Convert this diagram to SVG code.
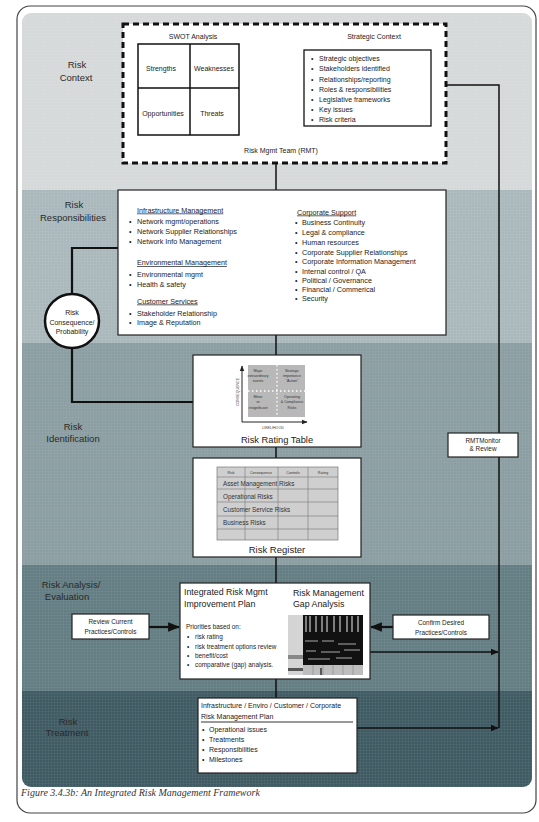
<svg xmlns="http://www.w3.org/2000/svg" width="539" height="822" viewBox="0 0 539 822">
<defs>
<style>
text{font-family:"Liberation Sans",Arial,sans-serif;fill:#222}
.lbl{font-size:9.5px;text-anchor:middle;fill:#2a2a2a}
.s7{font-size:7px}
.s73{font-size:7.2px}
.s65{font-size:6.4px}
.mid{text-anchor:middle}
.u{text-decoration:underline}
.box{fill:#fff;stroke:#222;stroke-width:1.2}
.con{fill:none;stroke:#111;stroke-width:1.5}
.thk{fill:none;stroke:#111;stroke-width:2.2}
.tiny{font-size:3.6px;text-anchor:middle;fill:#333}
.tl{stroke:#777;stroke-width:0.6}
</style>
<marker id="ah" viewBox="0 0 10 10" refX="9" refY="5" markerWidth="5.5" markerHeight="5.5" orient="auto"><path d="M0,1 L10,5 L0,9 z" fill="#111"/></marker>
<marker id="sa" viewBox="0 0 10 10" refX="9" refY="5" markerWidth="6" markerHeight="6" orient="auto"><path d="M0,1 L10,5 L0,9 z" fill="#222"/></marker>
<clipPath id="clip"><rect x="22" y="13" width="510" height="774" rx="9"/></clipPath>
<pattern id="grid" width="3" height="3" patternUnits="userSpaceOnUse"><path d="M0,0.5 H3 M0.5,0 V3" stroke="#fff" stroke-opacity="0.08" stroke-width="0.6"/></pattern>
</defs>

<rect x="0" y="0" width="539" height="822" fill="#fff"/>
<rect x="17" y="6" width="519" height="807" rx="13" fill="#fff" stroke="#444" stroke-width="1.2"/>

<g id="bands" clip-path="url(#clip)">
<rect x="22" y="13" width="510" height="177" fill="#d6d9d9"/>
<rect x="22" y="190" width="510" height="153" fill="#aab8bc"/>
<rect x="22" y="343" width="510" height="222" fill="#8b9ea2"/>
<rect x="22" y="565" width="510" height="126" fill="#637d83"/>
<rect x="22" y="691" width="510" height="96" fill="#405b63"/>
<rect x="22" y="13" width="510" height="774" fill="url(#grid)"/>
</g>

<g id="band-labels">
<text class="lbl" x="77" y="67.5">Risk</text>
<text class="lbl" x="76" y="81">Context</text>
<text class="lbl" x="74" y="207.5">Risk</text>
<text class="lbl" x="73" y="220.5">Responsibilities</text>
<text class="lbl" x="73" y="429.5">Risk</text>
<text class="lbl" x="73" y="441.5">Identification</text>
<text class="lbl" x="71" y="588">Risk Analysis/</text>
<text class="lbl" x="67" y="599.5">Evaluation</text>
<text class="lbl" x="68" y="725">Risk</text>
<text class="lbl" x="67" y="736">Treatment</text>
</g>

<g id="connectors">
<path class="con" d="M276,163 V698"/>
<path class="thk" d="M72,294 V248 H118"/>
<path class="thk" d="M72,348 V402 H193"/>
<path class="thk" d="M149,627 H179" marker-end="url(#ah)"/>
<path class="thk" d="M393,627 H371" marker-end="url(#ah)"/>
<path class="con" d="M370,652 H498" marker-end="url(#ah)"/>
<path class="con" d="M357,728 H498" marker-end="url(#ah)"/>
<path class="con" d="M499,728 V85 H433" marker-end="url(#ah)"/>
</g>

<g id="risk-context">
<rect x="123" y="24" width="323" height="139" fill="#fff" stroke="#111" stroke-width="3" stroke-dasharray="6 4"/>
<text class="s7 mid" x="193" y="38.5">SWOT Analysis</text>
<g id="swot">
<rect x="138" y="44" width="101" height="91" fill="#fff" stroke="#111" stroke-width="1.5"/>
<path d="M190,44 V135 M138,88 H239" stroke="#111" stroke-width="1.5"/>
<text class="s7 mid" x="161" y="70.5">Strengths</text>
<text class="s7 mid" x="214" y="70.5">Weaknesses</text>
<text class="s7 mid" x="163" y="115.5">Opportunities</text>
<text class="s7 mid" x="212" y="115.5">Threats</text>
</g>
<text class="s7 mid" x="374" y="38.5">Strategic  Context</text>
<g id="strategic-context">
<rect x="304" y="50" width="127" height="76" fill="#fff" stroke="#111" stroke-width="1.3"/>
<text class="s7"><tspan x="311" y="61">•</tspan><tspan x="319">Strategic objectives</tspan></text>
<text class="s7"><tspan x="311" y="71">•</tspan><tspan x="319">Stakeholders identified</tspan></text>
<text class="s7"><tspan x="311" y="81.5">•</tspan><tspan x="319">Relationships/reporting</tspan></text>
<text class="s7"><tspan x="311" y="91.5">•</tspan><tspan x="319">Roles &amp; responsibilities</tspan></text>
<text class="s7"><tspan x="311" y="101.5">•</tspan><tspan x="319">Legislative frameworks</tspan></text>
<text class="s7"><tspan x="311" y="111.5">•</tspan><tspan x="319">Key issues</tspan></text>
<text class="s7"><tspan x="311" y="122">•</tspan><tspan x="319">Risk criteria</tspan></text>
</g>
<text class="s7 mid" x="281" y="152.5">Risk Mgmt Team (RMT)</text>
</g>

<g id="risk-responsibilities">
<rect class="box" x="118" y="190" width="328" height="145"/>
<text class="s73 u" x="137" y="212.5">Infrastructure Management</text>
<text class="s73"><tspan x="129" y="223.5">•</tspan><tspan x="137">Network mgmt/operations</tspan></text>
<text class="s73"><tspan x="129" y="233.5">•</tspan><tspan x="137">Network Supplier Relationships</tspan></text>
<text class="s73"><tspan x="129" y="244">•</tspan><tspan x="137">Network Info Management</tspan></text>
<text class="s73 u" x="137" y="265">Environmental Management</text>
<text class="s73"><tspan x="129" y="277">•</tspan><tspan x="137">Environmental mgmt</tspan></text>
<text class="s73"><tspan x="129" y="287">•</tspan><tspan x="137">Health &amp; safety</tspan></text>
<text class="s73 u" x="137" y="303.5">Customer Services</text>
<text class="s73"><tspan x="129" y="315.5">•</tspan><tspan x="137">Stakeholder Relationship</tspan></text>
<text class="s73"><tspan x="129" y="324.5">•</tspan><tspan x="137">Image &amp; Reputation</tspan></text>
<text class="s73 u" x="297" y="214.5">Corporate Support</text>
<text class="s73"><tspan x="295" y="224.5">•</tspan><tspan x="302">Business Continuity</tspan></text>
<text class="s73"><tspan x="295" y="234.5">•</tspan><tspan x="302">Legal &amp; compliance</tspan></text>
<text class="s73"><tspan x="295" y="244.5">•</tspan><tspan x="302">Human resources</tspan></text>
<text class="s73"><tspan x="295" y="254.5">•</tspan><tspan x="302">Corporate Supplier Relationships</tspan></text>
<text class="s73"><tspan x="295" y="264">•</tspan><tspan x="302">Corporate Information Management</tspan></text>
<text class="s73"><tspan x="295" y="273.5">•</tspan><tspan x="302">Internal control / QA</tspan></text>
<text class="s73"><tspan x="295" y="282.5">•</tspan><tspan x="302">Political / Governance</tspan></text>
<text class="s73"><tspan x="295" y="291.5">•</tspan><tspan x="302">Financial / Commerical</tspan></text>
<text class="s73"><tspan x="295" y="300.5">•</tspan><tspan x="302">Security</tspan></text>
</g>

<g id="risk-consequence">
<circle cx="72" cy="321" r="27" fill="#fff" stroke="#111" stroke-width="2.5"/>
<text class="s7 mid" x="72" y="315">Risk</text>
<text class="s7 mid" x="72" y="324.5">Consequence/</text>
<text class="s7 mid" x="72" y="334">Probability</text>
</g>

<g id="risk-rating-table">
<rect class="box" x="193" y="355" width="168" height="92"/>
<rect x="248" y="365" width="57" height="52" fill="#b8b8b8"/>
<path d="M277,365 V417 M248,391 H305" stroke="#fff" stroke-width="1.3" stroke-dasharray="1.5 2.5"/>
<path d="M242,422 V366" stroke="#222" stroke-width="1" marker-end="url(#sa)"/>
<path d="M242,422 H307" stroke="#222" stroke-width="1" marker-end="url(#sa)"/>
<text class="tiny" x="258" y="372">Major</text>
<text class="tiny" x="258" y="377">extraordinary</text>
<text class="tiny" x="258" y="382">events</text>
<text class="tiny" x="292" y="372">Strategic</text>
<text class="tiny" x="292" y="377">importance</text>
<text class="tiny" x="292" y="382">"Action"</text>
<text class="tiny" x="258" y="398">Minor</text>
<text class="tiny" x="258" y="403">or</text>
<text class="tiny" x="258" y="409">insignificant</text>
<text class="tiny" x="292" y="398">Operating</text>
<text class="tiny" x="292" y="403">&amp; Compliance</text>
<text class="tiny" x="292" y="409">Risks</text>
<text class="tiny" transform="translate(239,392) rotate(-90)">CONSEQUENCE</text>
<text class="tiny" x="273" y="429">LIKELIHOOD</text>
<text class="mid" style="font-size:9.3px" x="277" y="443">Risk Rating Table</text>
</g>

<g id="risk-register">
<rect class="box" x="193" y="458" width="168" height="99"/>
<rect x="217" y="467" width="121" height="73" fill="#cfcfcf" stroke="#777" stroke-width="0.7"/>
<path class="tl" d="M217,477 H338 M217,489 H338 M217,502 H338 M217,516 H338 M217,529 H338 M245,467 V540 M278,467 V540 M308,467 V540"/>
<text class="tiny" x="231" y="474">Risk</text>
<text class="tiny" x="261" y="474">Consequence</text>
<text class="tiny" x="293" y="474">Controls</text>
<text class="tiny" x="323" y="474">Rating</text>
<text style="font-size:6.3px;fill:#333" x="223" y="485.5">Asset Management Risks</text>
<text style="font-size:6.3px;fill:#333" x="223" y="498.5">Operational Risks</text>
<text style="font-size:6.3px;fill:#333" x="223" y="511.5">Customer Service Risks</text>
<text style="font-size:6.3px;fill:#333" x="223" y="525">Business Risks</text>
<text class="mid" style="font-size:9.5px" x="277" y="553">Risk Register</text>
</g>

<g id="review-current">
<rect class="box" x="72" y="614" width="77" height="25"/>
<text class="s65 mid" x="110.5" y="623.5">Review Current</text>
<text class="s65 mid" x="110.5" y="633.5">Practices/Controls</text>
</g>

<g id="integrated-plan">
<rect class="box" x="180" y="583" width="190" height="96"/>
<text style="font-size:8.8px" x="184" y="595">Integrated Risk Mgmt</text>
<text style="font-size:8.8px" x="184" y="607">Improvement Plan</text>
<text class="s65" x="186" y="628.5">Priorities based on:</text>
<text class="s65"><tspan x="187" y="638.5">•</tspan><tspan x="195">risk rating</tspan></text>
<text class="s65"><tspan x="187" y="648.5">•</tspan><tspan x="195">risk treatment options review</tspan></text>
<text class="s65"><tspan x="187" y="657.5">•</tspan><tspan x="195">benefit/cost</tspan></text>
<text class="s65"><tspan x="187" y="666.5">•</tspan><tspan x="195">comparative (gap) analysis.</tspan></text>
<text style="font-size:8.8px" x="293" y="596">Risk Management</text>
<text style="font-size:8.8px" x="293" y="607">Gap Analysis</text>
<g id="gap-sheet">
<rect x="288" y="615" width="15" height="60" fill="#d4d4d4"/>
<rect x="288" y="655" width="15" height="4" fill="#888"/>
<rect x="288" y="668" width="15" height="3" fill="#555"/>
<rect x="303" y="615" width="60" height="50" fill="#111"/>
<path d="M306,616 V632 M310,616 V632 M316,616 V632 M322,616 V632 M327,616 V632 M334,616 V632 M340,616 V632 M347,616 V632 M352,616 V632 M358,616 V632" stroke="#9a9a9a" stroke-width="1.6"/>
<path d="M305,641 H318 M322,641 H334 M338,644 H356 M306,651 H316 M321,652 H340 M344,650 H360 M308,659 H330 M336,658 H352" stroke="#bbb" stroke-width="0.9"/>
<rect x="303" y="665" width="60" height="10" fill="#bdbdbd"/>
<path d="M313,665 V675 M323,665 V675 M333,665 V675 M343,665 V675 M353,665 V675" stroke="#888" stroke-width="0.6"/>
<path d="M321,668 V675" stroke="#111" stroke-width="1.2"/>
</g>
</g>

<g id="confirm-desired">
<rect class="box" x="393" y="615" width="96" height="24"/>
<text class="s65 mid" x="441" y="624.5">Confirm Desired</text>
<text class="s65 mid" x="441" y="635">Practices/Controls</text>
</g>

<g id="rmt-monitor">
<rect class="box" x="448" y="433" width="70" height="24"/>
<text class="s65 mid" x="483" y="442.5">RMTMonitor</text>
<text class="s65 mid" x="483" y="451">&amp; Review</text>
</g>

<g id="treatment-plan">
<rect class="box" x="198" y="698" width="159" height="75"/>
<text class="s7" x="201" y="707.5">Infrastructure / Enviro / Customer / Corporate</text>
<text class="s7" x="201" y="719">Risk Management Plan</text>
<path d="M201,722 H353" stroke="#333" stroke-width="1"/>
<text class="s7"><tspan x="202" y="731.5">•</tspan><tspan x="209">Operational issues</tspan></text>
<text class="s7"><tspan x="202" y="741.5">•</tspan><tspan x="209">Treatments</tspan></text>
<text class="s7"><tspan x="202" y="751.5">•</tspan><tspan x="209">Responsibilities</tspan></text>
<text class="s7"><tspan x="202" y="761.5">•</tspan><tspan x="209">Milestones</tspan></text>
</g>

<text x="21" y="796" style="font-family:'Liberation Serif','Times New Roman',serif;font-style:italic;font-size:10px;fill:#333">Figure 3.4.3b: An Integrated Risk Management Framework</text>
</svg>
